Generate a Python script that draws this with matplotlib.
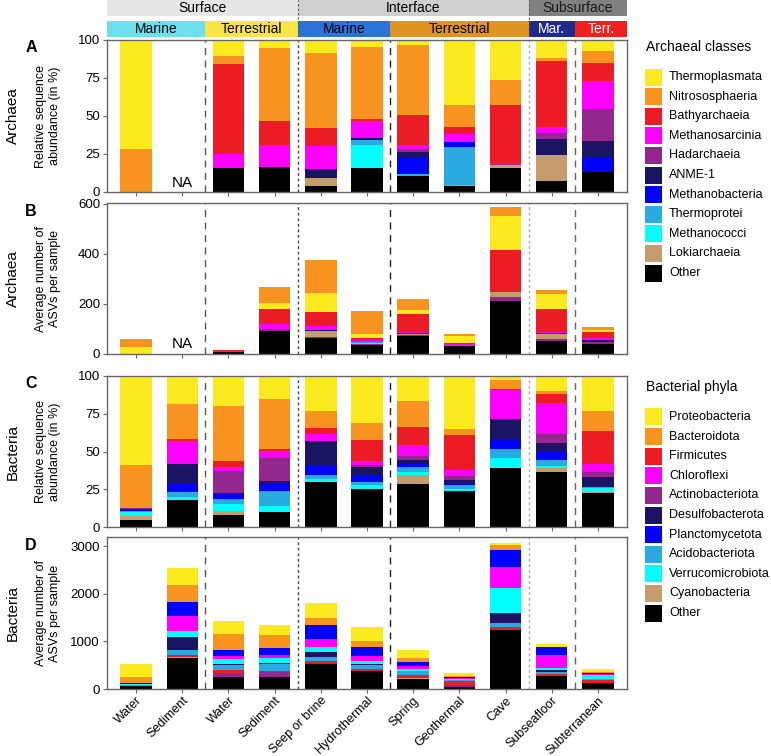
import numpy as np
import matplotlib
matplotlib.use('Agg')
import matplotlib.pyplot as plt
from matplotlib.patches import Rectangle

plt.rcParams['font.family'] = ['Liberation Sans', 'DejaVu Sans']

categories = ['Water', 'Sediment', 'Water', 'Sediment', 'Seep or brine', 'Hydrothermal',
              'Spring', 'Geothermal', 'Cave', 'Subseafloor', 'Subterranean']

archaea_classes = ['Thermoplasmata', 'Nitrososphaeria', 'Bathyarchaeia', 'Methanosarcinia',
                   'Hadarchaeia', 'ANME-1', 'Methanobacteria', 'Thermoprotei',
                   'Methanococci', 'Lokiarchaeia', 'Other']
bacteria_phyla = ['Proteobacteria', 'Bacteroidota', 'Firmicutes', 'Chloroflexi',
                  'Actinobacteriota', 'Desulfobacterota', 'Planctomycetota',
                  'Acidobacteriota', 'Verrucomicrobiota', 'Cyanobacteria', 'Other']

# panel A: archaea relative abundance (%)
a_thermoplasmata = [72, 0, 10.6, 5.5, 8.8, 4.6, 3.3, 43.0, 26.5, 12.1, 7.5]
a_nitrososphaeria = [28, 0, 5.1, 47.5, 49.3, 47.5, 45.9, 14.4, 16.1, 1.8, 7.7]
a_bathyarchaeia = [0, 0, 59.6, 16.1, 11.4, 0.9, 19.9, 4.2, 38.2, 43.5, 12.0]
a_methanosarcinia = [0, 0, 9.2, 14.3, 15.3, 11.2, 2.9, 5.5, 1.0, 3.7, 18.5]
a_hadarchaeia = [0, 0, 0, 0, 0, 0, 1.7, 0, 0.5, 4.0, 20.7]
a_anme1 = [0, 0, 0, 0, 5.9, 1.6, 3.6, 0, 0, 10.6, 10.9]
a_methanobacteria = [0, 0, 0, 0, 0, 0, 10.6, 3.5, 0, 0, 9.5]
a_thermoprotei = [0, 0, 0, 0, 0, 3.5, 1.5, 24.8, 0, 0, 0]
a_methanococci = [0, 0, 0, 0, 0, 15.2, 0, 0, 0, 0, 0]
a_lokiarchaeia = [0, 0, 0, 0, 5.1, 0, 0, 0.4, 1.8, 16.8, 0]
a_other = [0, 0, 15.5, 16.6, 4.2, 15.5, 10.6, 4.2, 15.9, 7.5, 13.2]

# panel B: archaea ASVs per sample
b_thermoplasmata = [28, 0, 1, 25, 75, 16, 17, 28, 136, 59, 9]
b_nitrososphaeria = [32, 0, 1, 64, 131, 92, 44, 9, 36, 16, 9]
b_bathyarchaeia = [0, 0, 2, 57, 59, 9, 69, 5, 169, 93, 25]
b_methanosarcinia = [0, 0, 3, 20, 15, 6, 7, 8, 0, 4, 9]
b_hadarchaeia = [0, 0, 3, 5, 3, 5, 5, 0, 16, 8, 8]
b_anme1 = [0, 0, 0, 0, 4, 3, 0, 0, 0, 3, 3]
b_methanobacteria = [0, 0, 0, 0, 0, 0, 3, 0, 0, 0, 2]
b_thermoprotei = [0, 0, 0, 0, 0, 2, 0, 1, 0, 0, 0]
b_methanococci = [0, 0, 0, 0, 0, 3, 0, 0, 0, 0, 0]
b_lokiarchaeia = [0, 0, 0, 3, 23, 0, 4, 0, 19, 21, 0]
b_other = [0, 0, 6, 93, 65, 36, 70, 30, 212, 52, 41]

# panel C: bacteria relative abundance (%)
c_proteobacteria = [58.7, 18.7, 19.6, 15.3, 23.6, 31.3, 16.9, 34.9, 2.7, 9.8, 23.3]
c_bacteroidota = [28.4, 22.9, 36.7, 33.1, 10.7, 11.1, 16.9, 4.4, 5.8, 2.2, 12.9]
c_firmicutes = [0, 1.3, 4.0, 1.1, 4.2, 13.8, 11.8, 22.9, 0.9, 6.0, 22.2]
c_chloroflexi = [0, 15.1, 2.7, 4.9, 4.7, 2.7, 7.3, 4.0, 19.6, 20.2, 5.1]
c_actinobacteriota = [1.3, 0, 14.2, 15.1, 0, 1.1, 2.7, 2.7, 0, 6.2, 3.3]
c_desulfobacterota = [0.5, 13.3, 1.1, 2.2, 15.8, 5.3, 2.7, 2.4, 13.6, 5.6, 6.4]
c_planctomycetota = [0.5, 5.8, 3.3, 4.7, 6.9, 4.9, 2.2, 0.9, 6.0, 5.6, 0]
c_acidobacteriota = [0.9, 3.3, 3.3, 9.8, 2.4, 2.0, 3.3, 2.4, 5.6, 4.0, 1.1]
c_verrucomicrobiota = [2.2, 2.0, 4.7, 4.0, 1.8, 2.7, 1.8, 1.8, 7.1, 1.3, 2.7]
c_cyanobacteria = [3.1, 0, 2.2, 0, 0, 0, 5.8, 0, 0, 2.4, 0.7]
c_other = [4.4, 17.6, 8.2, 9.8, 30.0, 25.1, 28.7, 23.6, 38.9, 36.7, 22.2]

# panel D: bacteria ASVs per sample
d_proteobacteria = [268, 373, 275, 204, 317, 303, 155, 70, 49, 56, 63]
d_bacteroidota = [127, 352, 338, 275, 148, 120, 99, 14, 92, 8, 10]
d_firmicutes = [0, 56, 70, 28, 49, 42, 63, 77, 49, 49, 60]
d_chloroflexi = [0, 317, 56, 77, 162, 85, 70, 21, 437, 268, 35]
d_actinobacteriota = [0, 0, 70, 99, 20, 0, 0, 35, 0, 0, 10]
d_desulfobacterota = [0, 261, 15, 10, 99, 26, 0, 0, 204, 42, 0]
d_planctomycetota = [20, 296, 120, 141, 296, 204, 70, 21, 359, 155, 15]
d_acidobacteriota = [15, 99, 113, 141, 85, 80, 78, 28, 85, 50, 21]
d_verrucomicrobiota = [15, 127, 106, 106, 106, 77, 42, 28, 542, 42, 70]
d_cyanobacteria = [0, 10, 0, 0, 0, 0, 28, 0, 0, 0, 0]
d_other = [70, 655, 260, 260, 520, 373, 211, 49, 1247, 267, 126]

palette = ['#FBEA1E', '#F7931E', '#ED1C24', '#FF00FF', '#93278F', '#1B1464',
           '#0000FF', '#29ABE2', '#00FFFF', '#C69C6D', '#000000']

# stacking orders (bottom -> top) as (values, palette index)
panel_a = [(a_other, 10), (a_lokiarchaeia, 9), (a_methanococci, 8), (a_thermoprotei, 7),
           (a_methanobacteria, 6), (a_anme1, 5), (a_hadarchaeia, 4), (a_methanosarcinia, 3),
           (a_bathyarchaeia, 2), (a_nitrososphaeria, 1), (a_thermoplasmata, 0)]
panel_b = [(b_other, 10), (b_hadarchaeia, 4), (b_lokiarchaeia, 9), (b_methanococci, 8),
           (b_thermoprotei, 7), (b_methanobacteria, 6), (b_anme1, 5), (b_methanosarcinia, 3),
           (b_bathyarchaeia, 2), (b_thermoplasmata, 0), (b_nitrososphaeria, 1)]
panel_c = [(c_other, 10), (c_cyanobacteria, 9), (c_verrucomicrobiota, 8), (c_acidobacteriota, 7),
           (c_planctomycetota, 6), (c_desulfobacterota, 5), (c_actinobacteriota, 4),
           (c_chloroflexi, 3), (c_firmicutes, 2), (c_bacteroidota, 1), (c_proteobacteria, 0)]
panel_d = [(d_other, 10), (d_cyanobacteria, 9), (d_actinobacteriota, 4), (d_firmicutes, 2),
           (d_acidobacteriota, 7), (d_desulfobacterota, 5), (d_verrucomicrobiota, 8),
           (d_chloroflexi, 3), (d_planctomycetota, 6), (d_bacteroidota, 1), (d_proteobacteria, 0)]

W, H = 771, 756
fig = plt.figure(figsize=(W / 100, H / 100), dpi=100)
XL, XR = 107, 627
x = np.arange(len(categories))
xlim = (-0.63, 10.63)


def px_axes(top, bottom):
    return fig.add_axes([XL / W, 1 - bottom / H, (XR - XL) / W, (bottom - top) / H])


def ftext(xp, yp, s, **kw):
    return fig.text(xp / W, 1 - yp / H, s, **kw)


# header bands
hax = px_axes(0, 37)
hax.set_xlim(xlim)
hax.set_ylim(37, 0)
hax.axis('off')
top_bands = [(-0.63, 3.5, 'Surface', '#E6E6E6', 'black'),
             (3.5, 8.5, 'Interface', '#CFCFCF', 'black'),
             (8.5, 10.63, 'Subsurface', '#808080', '#1a1a1a')]
sub_bands = [(-0.63, 1.5, 'Marine', '#6DE0EE', 'black'),
             (1.5, 3.5, 'Terrestrial', '#FBE44A', 'black'),
             (3.5, 5.5, 'Marine', '#2A73D9', 'black'),
             (5.5, 8.5, 'Terrestrial', '#DF9424', 'black'),
             (8.5, 9.5, 'Mar.', '#1E2A8C', 'white'),
             (9.5, 10.63, 'Terr.', '#F02020', 'white')]
for x0, x1, name, col, tcol in top_bands:
    hax.add_patch(Rectangle((x0, 0), x1 - x0, 16, color=col, lw=0))
    hax.text((x0 + x1) / 2, 8.5, name, ha='center', va='center', fontsize=10, color=tcol)
for x0, x1, name, col, tcol in sub_bands:
    hax.add_patch(Rectangle((x0, 21), x1 - x0, 15.5, color=col, lw=0))
    hax.text((x0 + x1) / 2, 29, name, ha='center', va='center', fontsize=10, color=tcol)
for xs in (3.5, 8.5):
    hax.axvline(xs, color='#555555', lw=0.8, ls=(0, (2, 2)))

separators = [(1.5, '#555555', (0, (5, 4))), (3.5, '#444444', (0, (2, 2))),
              (5.5, '#222222', (0, (5, 4))), (8.5, '#AAAAAA', (0, (2, 2))),
              (9.5, '#666666', (0, (5, 4)))]

panels = [
    (40, 192, panel_a, (0, 100), [0, 25, 50, 75, 100], 'A', 'Archaea',
     'Relative sequence\nabundance (in %)', 6),
    (203, 354, panel_b, (0, 603), [0, 200, 400, 600], 'B', 'Archaea',
     'Average number of\nASVs per sample', 38),
    (376, 527, panel_c, (0, 100), [0, 25, 50, 75, 100], 'C', 'Bacteria',
     'Relative sequence\nabundance (in %)', None),
    (537, 689, panel_d, (0, 3190), [0, 1000, 2000, 3000], 'D', 'Bacteria',
     'Average number of\nASVs per sample', None),
]

for i, (top, bot, layers, ylim, yticks, letter, rowlab, ylab, na_y) in enumerate(panels):
    ax = px_axes(top, bot)
    bottom = np.zeros(len(categories))
    for vals, ci in layers:
        v = np.array(vals, dtype=float)
        ax.bar(x, v, 0.68, bottom=bottom, color=palette[ci], linewidth=0)
        bottom += v
    for xs, col, ls in separators:
        ax.axvline(xs, color=col, lw=1.0, ls=ls, zorder=0)
    ax.set_xlim(xlim)
    ax.set_ylim(ylim)
    ax.set_yticks(yticks)
    ax.set_xticks(x)
    for s in ax.spines.values():
        s.set_color('#666666')
        s.set_linewidth(1.0)
    ax.tick_params(length=3, width=0.8, color='#666666', labelsize=9.5, pad=2)
    if i == 3:
        ax.set_xticklabels(categories, rotation=45, ha='right', rotation_mode='anchor',
                           fontsize=9)
        ax.tick_params(axis='x', pad=1)
    else:
        ax.set_xticklabels([])
    if na_y is not None:
        ax.text(1, na_y, 'NA', ha='center', va='center', fontsize=11)
    yc = (top + bot) / 2
    ftext(31, top + 8, letter, fontsize=11.5, fontweight='bold', ha='center', va='center')
    ftext(13, yc, rowlab, rotation=90, fontsize=11, ha='center', va='center')
    ftext(48, yc, ylab, rotation=90, fontsize=9, ha='center', va='center',
          multialignment='center', linespacing=1.15)


def add_legend(title, names, title_y, first_y, step=19.6, box=17):
    ftext(646, title_y, title, fontsize=10, ha='left', va='center')
    for k, name in enumerate(names):
        yc = first_y + step * k
        fig.patches.append(Rectangle((645 / W, 1 - (yc + box / 2) / H), box / W, box / H,
                                     transform=fig.transFigure, facecolor=palette[k], lw=0))
        ftext(669, yc, name, fontsize=9, ha='left', va='center')


add_legend('Archaeal classes', archaea_classes, 47, 77)
add_legend('Bacterial phyla', bacteria_phyla, 387, 417)

fig.savefig('out.png', dpi=100)
